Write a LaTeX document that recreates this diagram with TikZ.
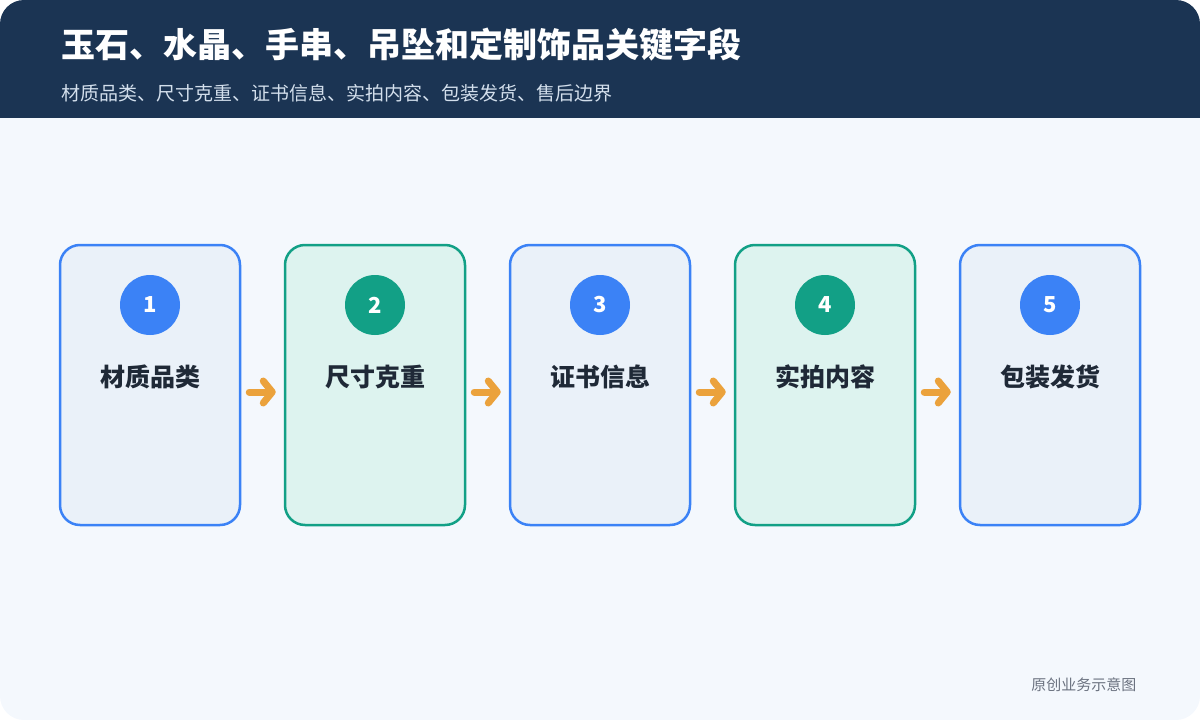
\documentclass[tikz,border=0pt]{standalone}
\usepackage{fontspec}
\setmainfont{Noto Sans CJK SC}
\usetikzlibrary{arrows.meta}
\definecolor{navy}{HTML}{1B3453}
\definecolor{pagebg}{HTML}{F4F8FD}
\definecolor{blueline}{HTML}{3B82F6}
\definecolor{bluefill}{HTML}{EAF1F9}
\definecolor{greenline}{HTML}{12A086}
\definecolor{greenfill}{HTML}{DDF3EF}
\definecolor{arrowc}{HTML}{EBA23C}
\definecolor{labelc}{HTML}{1F2937}
\definecolor{subc}{HTML}{D3DFEC}
\definecolor{footc}{HTML}{6B7280}
\tikzset{
  step/.style={draw=#1line, fill=#1fill, line width=2.5pt, rounded corners=20pt,
    minimum width=180pt, minimum height=280pt, inner sep=0pt},
  badge/.style={circle, fill=#1line, minimum size=60pt, inner sep=0pt,
    text=white, font=\bfseries\fontsize{22}{22}\selectfont},
  steplabel/.style={text=labelc, font=\bfseries\fontsize{25}{25}\selectfont},
  flow/.style={draw=arrowc, line width=7pt, line cap=round,
    -{Straight Barb[length=9pt,width=22pt,line cap=round,line join=round]}}
}
\begin{document}
\begin{tikzpicture}[x=1pt,y=-1pt]
	\useasboundingbox (0,0) rectangle (1200,720);
	\fill[pagebg, rounded corners=24pt] (0,0) rectangle (1200,720);
	\fill[navy, rounded corners=24pt] (0,0) rectangle (1200,140);
	\fill[pagebg] (0,118) rectangle (1200,150);
	\node[anchor=west, text=white, font=\bfseries\fontsize{34}{34}\selectfont] (title) at (58,45)
		{玉石、水晶、手串、吊坠和定制饰品关键字段};
	\node[anchor=west, text=subc, font=\fontsize{19}{19}\selectfont] (subtitle) at (58,93)
		{材质品类、尺寸克重、证书信息、实拍内容、包装发货、售后边界};

	% Schritte
	\foreach \t/\c [count=\i] in {材质品类/blue,尺寸克重/green,证书信息/blue,实拍内容/green,包装发货/blue} {
	     \node[step=\c] (box\i) at (150+225*\i-225,385) {};
	     \node[badge=\c] (num\i) at (150+225*\i-225,305) {\i};
	     \node[steplabel] (lab\i) at (150+225*\i-225,377) {\t};
	}
	\foreach \i [evaluate=\i as \j using int(\i+1)] in {1,...,4} {
	     \draw[flow] ([xshift=8pt,yshift=-7pt]box\i.east) -- ([xshift=-8pt,yshift=-7pt]box\j.west);
	}

	\node[anchor=east, text=footc, font=\fontsize{15}{15}\selectfont] (foot) at (1140,685) {原创业务示意图};
\end{tikzpicture}
\end{document}
